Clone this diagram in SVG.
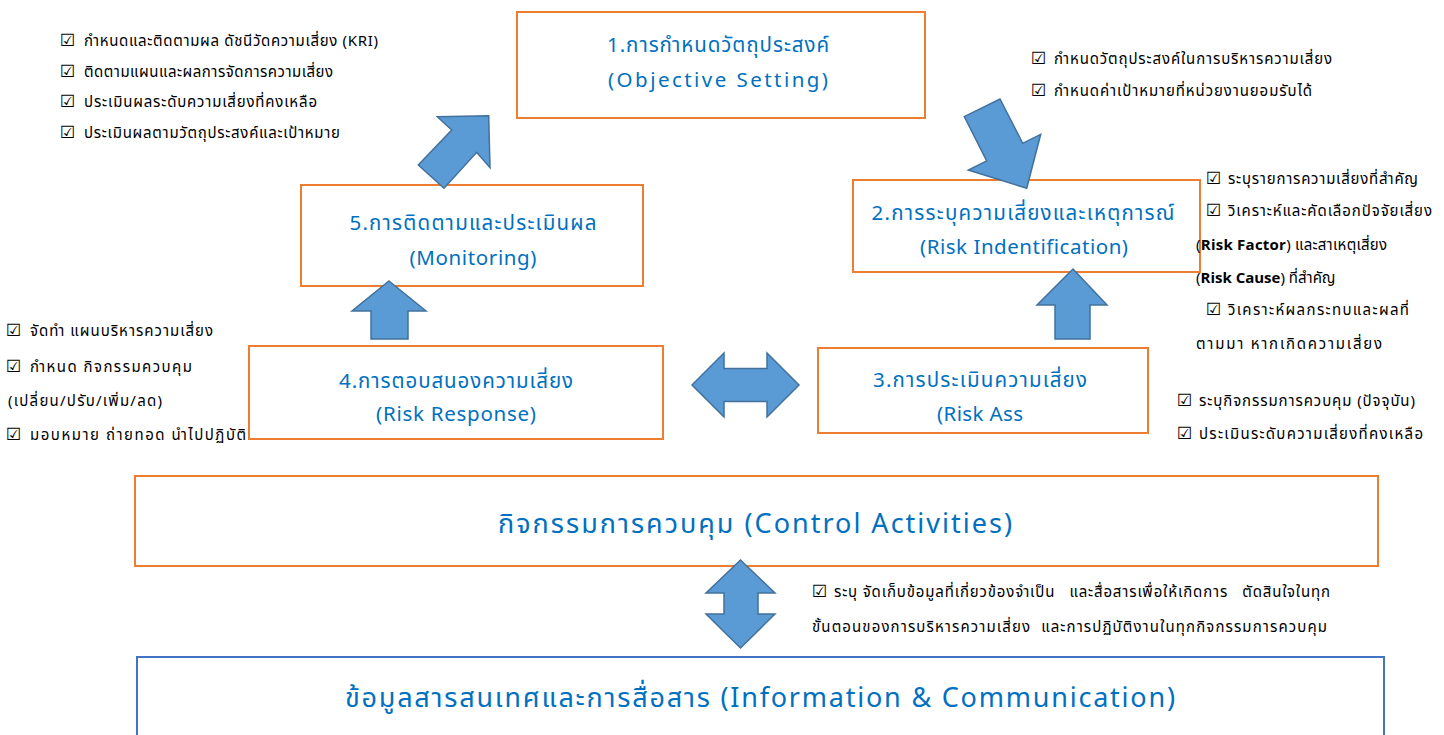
<svg xmlns="http://www.w3.org/2000/svg" width="1444" height="735" viewBox="0 0 1444 735">
<style>
.box{fill:#fff;stroke:#ED7D31;stroke-width:2}
.ibox{fill:#fff;stroke:#4472C4;stroke-width:2}
.t{font-family:"Noto Sans Thai","Tahoma","Noto Sans","DejaVu Sans",sans-serif;fill:#0070C0;font-size:20.5px;text-anchor:middle}
.big{font-size:27px}
.n{font-family:"Noto Sans Thai","Tahoma","Noto Sans","DejaVu Sans",sans-serif;fill:#000;font-size:15px}
.ck{font-family:"DejaVu Sans",sans-serif;font-size:17px;font-weight:bold;fill:#000}
.arr{fill:#5B9BD5;stroke:#41719C;stroke-width:1.5;stroke-linejoin:miter}
</style>
<rect width="1444" height="735" fill="#fff"/>

<g id="node-info"><rect class="ibox" x="137" y="657" width="1247" height="90"/>
<text class="t big" x="760" y="707" textLength="830" lengthAdjust="spacing">ข้อมูลสารสนเทศและการสื่อสาร (Information &amp; Communication)</text></g>

<g id="node-control"><rect class="box" x="135" y="476" width="1243" height="90"/>
<text class="t big" x="755" y="533" textLength="514" lengthAdjust="spacing">กิจกรรมการควบคุม (Control Activities)</text></g>

<g id="node-1"><rect class="box" x="517" y="12" width="408" height="106"/>
<text class="t" x="718" y="52" textLength="222" lengthAdjust="spacing">1.การกำหนดวัตถุประสงค์</text>
<text class="t" x="718" y="87" textLength="220" lengthAdjust="spacing">(Objective  Setting)</text></g>

<g id="node-2"><rect class="box" x="853" y="180" width="347" height="92"/>
<text class="t" x="1023" y="220" textLength="303" lengthAdjust="spacing">2.การระบุความเสี่ยงและเหตุการณ์</text>
<text class="t" x="1024" y="254" textLength="208" lengthAdjust="spacing">(Risk Indentification)</text></g>

<g id="node-3"><rect class="box" x="818" y="348" width="330" height="85"/>
<text class="t" x="980" y="387" textLength="214" lengthAdjust="spacing">3.การประเมินความเสี่ยง</text>
<text class="t" x="980" y="421" textLength="86" lengthAdjust="spacing">(Risk Ass</text></g>

<g id="node-4"><rect class="box" x="249" y="346" width="414" height="93"/>
<text class="t" x="456" y="388" textLength="234" lengthAdjust="spacing">4.การตอบสนองความเสี่ยง</text>
<text class="t" x="456" y="421" textLength="160" lengthAdjust="spacing">(Risk Response)</text></g>

<g id="node-5"><rect class="box" x="301" y="185" width="342" height="101"/>
<text class="t" x="473" y="230" textLength="247" lengthAdjust="spacing">5.การติดตามและประเมินผล</text>
<text class="t" x="473" y="265" textLength="127" lengthAdjust="spacing">(Monitoring)</text></g>

<g id="connectors">
<polygon class="arr" points="437.3,116.7 488.7,115.7 490,167.7 476.7,152.3 444,188.3 418.3,165 451.7,130"/>
<polygon class="arr" points="964.3,116.7 1000,99 1022.7,143.3 1040.7,134.3 1026.7,188.3 968.3,170 986.7,161"/>
<polygon class="arr" points="389,281 426,311 408,311 408,339 371,339 371,311 352,311"/>
<polygon class="arr" points="1073,269 1107,305 1090,305 1090,339 1055,339 1055,305 1037,305"/>
<polygon class="arr" points="692,385 724,353 724,368.5 767,368.5 767,353 799,385 767,417 767,401.5 724,401.5 724,417"/>
<polygon class="arr" points="740.5,560 775,593 758,593 758,614 775,614 740.5,648 706,614 724,614 724,593 706,593"/>
</g>

<g id="notes-monitoring">
<text class="ck" x="60" y="46">☑</text><text class="n" x="84" y="46" textLength="294" lengthAdjust="spacing">กำหนดและติดตามผล ดัชนีวัดความเสี่ยง (KRI)</text>
<text class="ck" x="60" y="77">☑</text><text class="n" x="84" y="77" textLength="249" lengthAdjust="spacing">ติดตามแผนและผลการจัดการความเสี่ยง</text>
<text class="ck" x="60" y="107">☑</text><text class="n" x="84" y="107" textLength="233" lengthAdjust="spacing">ประเมินผลระดับความเสี่ยงที่คงเหลือ</text>
<text class="ck" x="60" y="138">☑</text><text class="n" x="84" y="138" textLength="256" lengthAdjust="spacing">ประเมินผลตามวัตถุประสงค์และเป้าหมาย</text>
</g>

<g id="notes-objective">
<text class="ck" x="1031" y="64">☑</text><text class="n" x="1054" y="64" textLength="278" lengthAdjust="spacing">กำหนดวัตถุประสงค์ในการบริหารความเสี่ยง</text>
<text class="ck" x="1031" y="96">☑</text><text class="n" x="1054" y="96" textLength="258" lengthAdjust="spacing">กำหนดค่าเป้าหมายที่หน่วยงานยอมรับได้</text>
</g>

<g id="notes-identification">
<text class="ck" x="1206" y="184">☑</text><text class="n" x="1228" y="184" textLength="190" lengthAdjust="spacing">ระบุรายการความเสี่ยงที่สำคัญ</text>
<text class="ck" x="1206" y="216">☑</text><text class="n" x="1228" y="216" textLength="204" lengthAdjust="spacing">วิเคราะห์และคัดเลือกปัจจัยเสี่ยง</text>
<text class="n" x="1196" y="250" textLength="191" lengthAdjust="spacing">(<tspan font-weight="bold">Risk Factor</tspan>) และสาเหตุเสี่ยง</text>
<text class="n" x="1196" y="283">(<tspan font-weight="bold">Risk Cause</tspan>) ที่สำคัญ</text>
<text class="ck" x="1206" y="315">☑</text><text class="n" x="1228" y="315" textLength="181" lengthAdjust="spacing">วิเคราะห์ผลกระทบและผลที่</text>
<text class="n" x="1196" y="349" textLength="186" lengthAdjust="spacing">ตามมา หากเกิดความเสี่ยง</text>
</g>

<g id="notes-response">
<text class="ck" x="6" y="336">☑</text><text class="n" x="30" y="336" textLength="183" lengthAdjust="spacing">จัดทำ แผนบริหารความเสี่ยง</text>
<text class="ck" x="6" y="372">☑</text><text class="n" x="30" y="372" textLength="162" lengthAdjust="spacing">กำหนด กิจกรรมควบคุม</text>
<text class="n" x="8" y="406" textLength="154" lengthAdjust="spacing">(เปลี่ยน/ปรับ/เพิ่ม/ลด)</text>
<text class="ck" x="6" y="440">☑</text><text class="n" x="30" y="440" textLength="216" lengthAdjust="spacing">มอบหมาย ถ่ายทอด นำไปปฏิบัติ</text>
</g>

<g id="notes-assessment">
<text class="ck" x="1177" y="406">☑</text><text class="n" x="1199" y="406" textLength="216" lengthAdjust="spacing">ระบุกิจกรรมการควบคุม  (ปัจจุบัน)</text>
<text class="ck" x="1177" y="439">☑</text><text class="n" x="1199" y="439" textLength="224" lengthAdjust="spacing">ประเมินระดับความเสี่ยงที่คงเหลือ</text>
</g>

<g id="notes-info">
<text class="ck" x="812" y="597">☑</text><text class="n" x="834" y="597" textLength="496" lengthAdjust="spacing" xml:space="preserve">ระบุ จัดเก็บข้อมูลที่เกี่ยวข้องจำเป็น   และสื่อสารเพื่อให้เกิดการ   ตัดสินใจในทุก</text>
<text class="n" x="812" y="632" textLength="515" lengthAdjust="spacing" xml:space="preserve">ขั้นตอนของการบริหารความเสี่ยง  และการปฏิบัติงานในทุกกิจกรรมการควบคุม</text>
</g>
</svg>
